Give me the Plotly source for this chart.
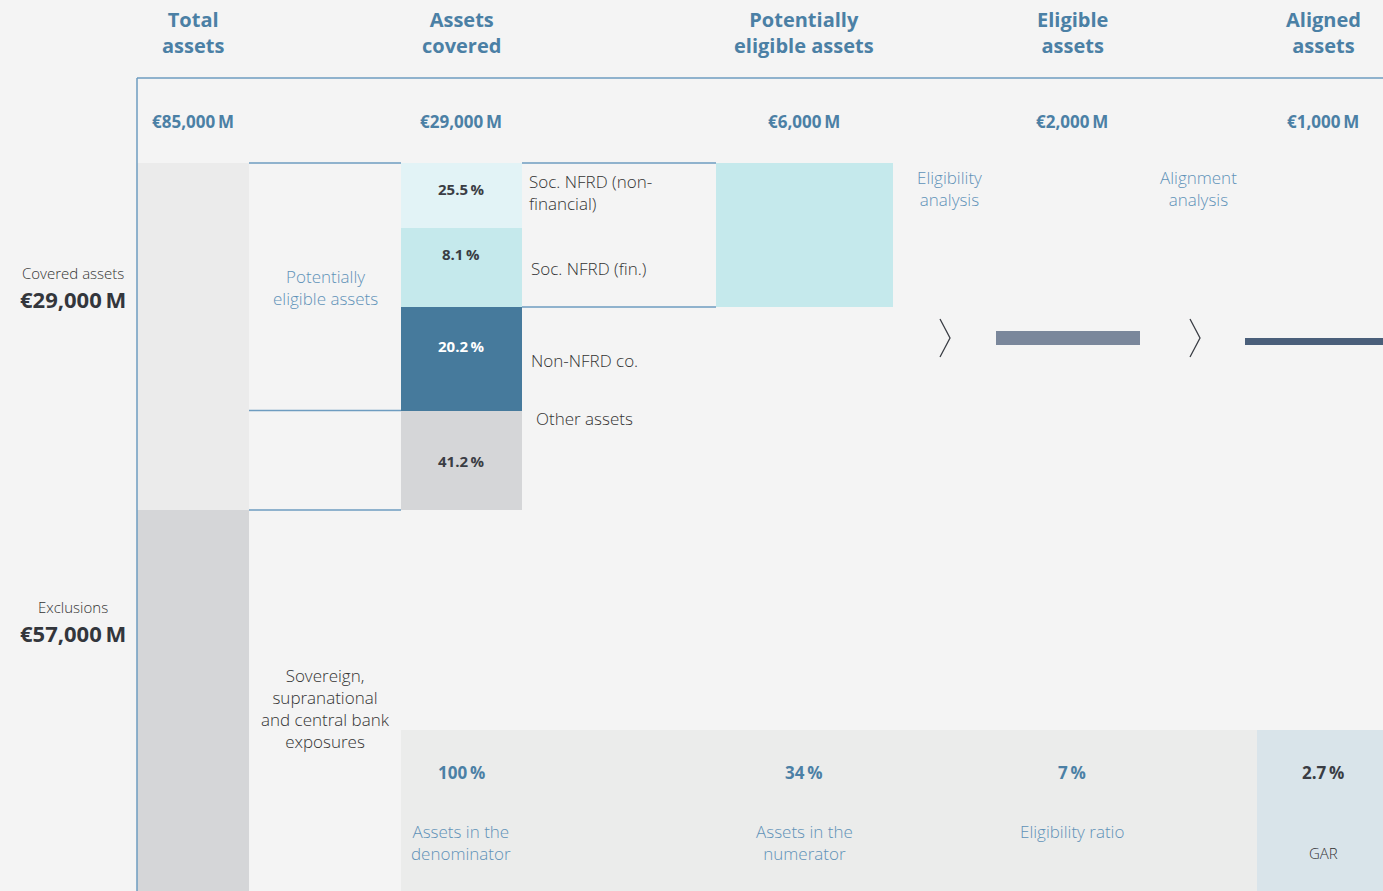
import plotly.graph_objects as go

# ---- data ----
stage_names = ["Total<br>assets", "Assets<br>covered", "Potentially<br>eligible assets",
               "Eligible<br>assets", "Aligned<br>assets"]
stage_amounts = [85000, 29000, 6000, 2000, 1000]

split_names = ["Covered assets", "Exclusions"]
split_amounts = [29000, 57000]

segment_names = ["Soc. NFRD (non-<br>financial)", "Soc. NFRD (fin.)", "Non-NFRD co.", "Other assets"]
segment_shares = [25.5, 8.1, 20.2, 41.2]

group_names = ["Potentially<br>eligible assets", "Sovereign,<br>supranational<br>and central bank<br>exposures"]

step_names = ["Eligibility<br>analysis", "Alignment<br>analysis"]

ratio_values = [100, 34, 7, 2.7]
ratio_names = ["Assets in the<br>denominator", "Assets in the<br>numerator", "Eligibility ratio", "GAR"]

# ---- layout (pixel space) ----
W, H = 1383, 891
BG = "#f4f4f4"
BLUE = "#4b80a5"
LIGHTBLUE = "#5f92b8"
LINE = "#6e9cc0"
DARK = "#3a3d44"
GREY_TXT = "#333333"
FONT = "Open Sans"

col_x = [193, 461, 804, 1072, 1323]
left_x = 137
col1 = (137, 249)
col2 = (249, 401)
col3 = (401, 522)
col4 = (716, 893)
split_bounds = [163, 510, 891]
seg_bounds = [163, 228, 307, 411, 510]
seg_colors = ["#e2f3f6", "#c5e9ec", "#467a9c", "#d5d6d8"]
seg_text = [DARK, DARK, "white", DARK]
split_colors = ["#ebebeb", "#d5d6d8"]

fig = go.Figure()


def box(x0, x1, y0, y1, color):
    fig.add_trace(go.Bar(x=[(x0 + x1) / 2], width=[x1 - x0], base=[y0], y=[y1 - y0],
                         marker=dict(color=color, line=dict(width=0)),
                         hoverinfo="skip", showlegend=False))


def hline(x0, x1, y, color=LINE, w=1.5):
    fig.add_trace(go.Scatter(x=[x0, x1], y=[y, y], mode="lines", line=dict(color=color, width=w),
                             hoverinfo="skip", showlegend=False))


def text(x, y, s, size, color, bold=False, anchor="center", weight=None):
    fig.add_annotation(x=x, y=y, text=s, showarrow=False, xanchor=anchor, yanchor="middle",
                       align=anchor if anchor != "center" else "center",
                       font=dict(family=FONT, size=size, color=color,
                                 weight=weight if weight else (700 if bold else 400)))


# total assets column: covered vs exclusions
for i in range(2):
    box(col1[0], col1[1], split_bounds[i], split_bounds[i + 1], split_colors[i])

# assets covered breakdown
for i, share in enumerate(segment_shares):
    box(col3[0], col3[1], seg_bounds[i], seg_bounds[i + 1], seg_colors[i])

# potentially eligible block (the two social NFRD segments)
box(col4[0], col4[1], seg_bounds[0], seg_bounds[2], seg_colors[1])

# eligible and aligned bars (height scales with amount)
bar_unit = 7 / stage_amounts[4]
box(996, 1140, 345 - stage_amounts[3] * bar_unit, 345, "#7a879b")
box(1245, 1383, 345 - stage_amounts[4] * bar_unit, 345, "#4a5f7a")

# bottom ratio panel
box(401, 1257, 730, 891, "#ebeceb")
box(1257, 1383, 730, 891, "#d9e4ea")

# frame lines
hline(left_x, W, 78)
fig.add_trace(go.Scatter(x=[left_x, left_x], y=[78, H], mode="lines", line=dict(color=LINE, width=1.5),
                         hoverinfo="skip", showlegend=False))
hline(col2[0], col2[1], 163)
hline(col2[0], col2[1], 410.5)
hline(col2[0], col2[1], 510)
hline(col3[1], col4[0], 163)
hline(col3[1], col4[0], 307)

# chevrons
for cx in [940, 1190]:
    fig.add_trace(go.Scatter(x=[cx, cx + 10, cx], y=[319, 338, 357], mode="lines",
                             line=dict(color=DARK, width=1.3), hoverinfo="skip", showlegend=False))

# header text
for i, name in enumerate(stage_names):
    text(col_x[i], 32, name, 20, BLUE, bold=True)
    text(col_x[i], 121, f"€{stage_amounts[i]:,}\u2009M", 17, BLUE, bold=True)

# left labels
for i, name in enumerate(split_names):
    yc = [286, 620][i]
    text(73, yc - 13, name, 15, GREY_TXT, weight=300)
    text(73, yc + 13, f"€{split_amounts[i]:,}\u2009M", 22, "#33363c", bold=True)

# group labels
text(325, 287, group_names[0], 17, LIGHTBLUE, weight=300)
text(325, 708, group_names[1], 17, GREY_TXT, weight=300)

# segment values and names
seg_label_y = [189, 254, 346, 461]
name_pos = [(527, 192), (529, 268), (529, 360), (534, 418)]
for i, share in enumerate(segment_shares):
    text(461, seg_label_y[i], f"{share}\u2009%", 15, seg_text[i], bold=True)
    text(name_pos[i][0], name_pos[i][1], segment_names[i], 17, GREY_TXT, anchor="left", weight=300)

# analysis step labels
text(949, 188, step_names[0], 17, LIGHTBLUE, weight=300)
text(1198, 188, step_names[1], 17, LIGHTBLUE, weight=300)

# ratios
ratio_x = [461, 804, 1072, 1323]
for i, v in enumerate(ratio_values):
    last = i == len(ratio_values) - 1
    text(ratio_x[i], 772, f"{v:g}\u2009%", 17, DARK if last else BLUE, bold=True)
    if last:
        text(ratio_x[i], 853, ratio_names[i], 15, GREY_TXT, weight=300)
    elif "<br>" in ratio_names[i]:
        text(ratio_x[i], 842, ratio_names[i], 17, LIGHTBLUE, weight=300)
    else:
        text(ratio_x[i], 831, ratio_names[i], 17, LIGHTBLUE, weight=300)

fig.update_layout(
    width=W, height=H,
    margin=dict(l=0, r=0, t=0, b=0),
    paper_bgcolor=BG, plot_bgcolor=BG,
    barmode="overlay", bargap=0,
    showlegend=False,
    xaxis=dict(range=[0, W], visible=False, fixedrange=True),
    yaxis=dict(range=[H, 0], visible=False, fixedrange=True),
)

fig.write_html("out.html", config={"displayModeBar": False},
               post_script="document.body.style.margin='0';document.body.style.overflow='hidden';")
